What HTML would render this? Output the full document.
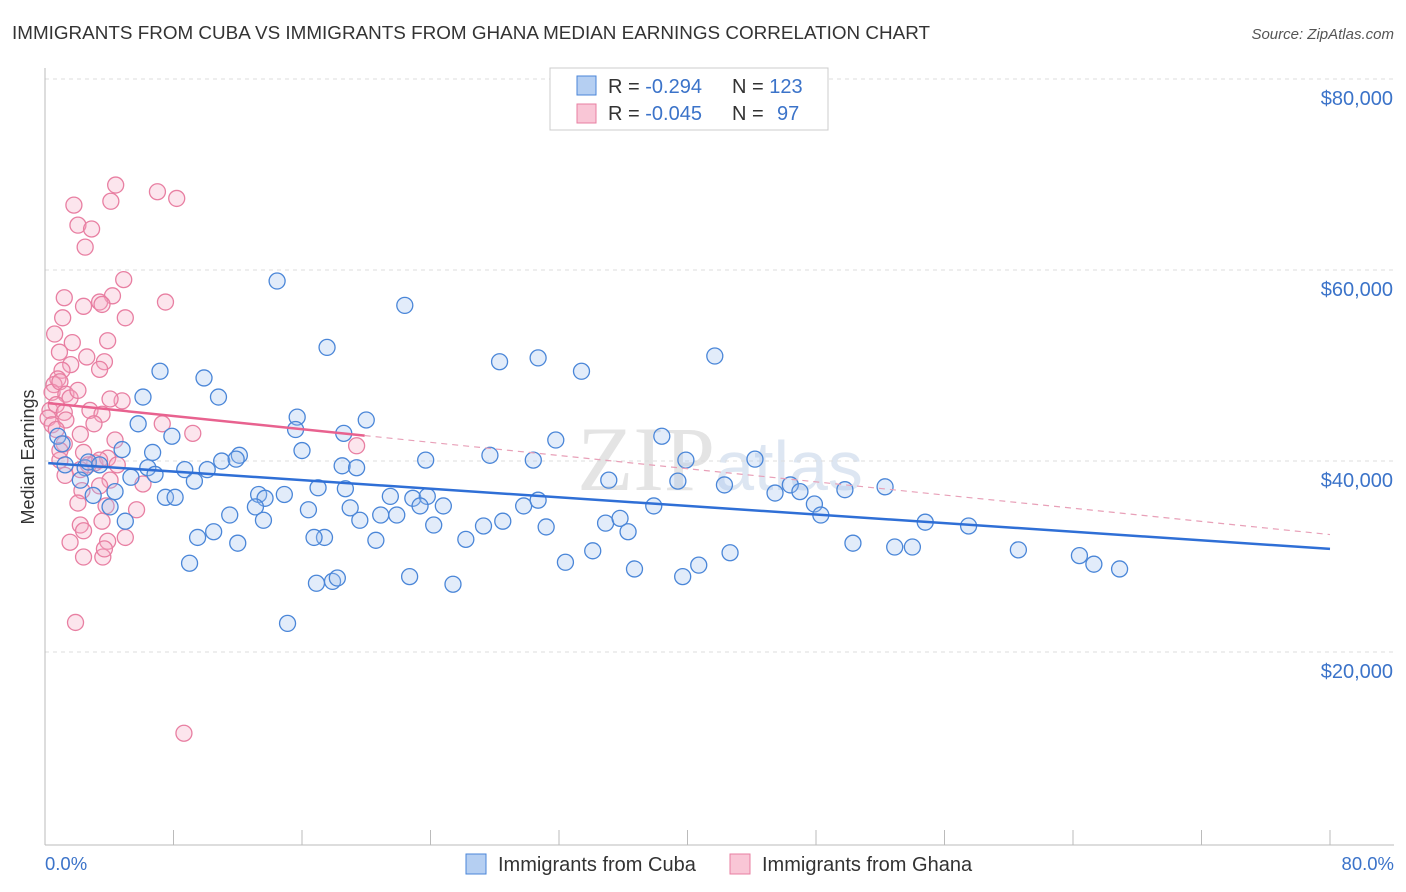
<!DOCTYPE html>
<html><head><meta charset="utf-8">
<style>
body{margin:0;background:#fff;font-family:"Liberation Sans",sans-serif;}
svg{display:block}
</style></head>
<body>
<svg id="chart" width="1406" height="892">
<text x="12" y="39" font-size="18" fill="#333" textLength="918" lengthAdjust="spacingAndGlyphs">IMMIGRANTS FROM CUBA VS IMMIGRANTS FROM GHANA MEDIAN EARNINGS CORRELATION CHART</text>
<text x="1394" y="39" font-size="15" fill="#555" font-style="italic" text-anchor="end">Source: ZipAtlas.com</text>
<text x="720" y="490" font-size="92" fill="#e4e4e4" text-anchor="middle" font-family="Liberation Serif,serif">ZIP<tspan font-family="Liberation Sans,sans-serif" font-size="70" fill="#dde6f2">atlas</tspan></text>
<g id="grid"></g>
<g id="axes"></g>
<g id="marks"></g>
<text transform="translate(34,457) rotate(-90)" font-size="18" fill="#333" text-anchor="middle">Median Earnings</text>
<text x="45" y="870" font-size="18.5" fill="#3b73c9">0.0%</text>
<text x="1394" y="870" font-size="18.5" fill="#3b73c9" text-anchor="end">80.0%</text>
<g>
<rect x="550" y="68" width="278" height="62" fill="#fff" stroke="#ccc"/>
<rect x="577" y="76" width="19" height="19" fill="#b5cff2" stroke="#4a86d8"/>
<rect x="577" y="104" width="19" height="19" fill="#f9c6d6" stroke="#e87fa2"/>
<text x="608" y="93" font-size="20" fill="#333">R = <tspan fill="#3b73c9">-0.294</tspan><tspan x="732">N = </tspan><tspan fill="#3b73c9">123</tspan></text>
<text x="608" y="120" font-size="20" fill="#333">R = <tspan fill="#3b73c9">-0.045</tspan><tspan x="732">N = </tspan><tspan fill="#3b73c9" x="777">97</tspan></text>
</g>
<g>
<rect x="466" y="854" width="20" height="20" fill="#b5cff2" stroke="#4a86d8"/>
<text x="498" y="871" font-size="20" fill="#333">Immigrants from Cuba</text>
<rect x="730" y="854" width="20" height="20" fill="#f9c6d6" stroke="#e87fa2"/>
<text x="762" y="871" font-size="20" fill="#333">Immigrants from Ghana</text>
</g>
</svg>
<script>
const yTicks=[20000,40000,60000,80000];
const yTickLabels=["$20,000","$40,000","$60,000","$80,000"];
const xTicks=[0,8,16,24,32,40,48,56,64,72,80];
const cubaX=[14.45,22.4,17.56,41.7,28.3,30.7,33.4,7.16,9.9,6.1,10.8,15.7,20.0,15.6,7.9,5.8,31.8,38.4,18.6,27.7,30.4,23.7,16.0,12.1,11.0,11.9,44.2,39.9,6.7,4.8,0.8,1.06,1.25,2.5,2.7,2.2,3.4,8.7,10.1,18.5,19.4,6.4,6.85,9.3,5.35,4.36,3.0,4.05,5.0,7.5,8.1,13.3,14.9,13.7,13.1,17.0,18.7,21.5,22.9,23.8,24.8,23.35,19.0,16.4,20.9,21.9,19.6,13.6,11.5,10.5,9.5,12.0,24.2,27.3,28.5,29.8,30.7,31.2,34.9,35.8,36.3,37.9,35.1,39.4,42.3,45.45,46.4,47.0,47.9,48.3,49.8,52.3,54.8,57.5,50.3,52.9,54.0,60.6,64.4,65.3,66.9,42.65,40.7,39.7,36.7,34.1,32.4,26.2,20.6,17.4,16.75,9.0,16.9,17.9,18.2,22.7,25.4,15.1];
const cubaY=[58.95,56.4,52.0,51.1,50.5,50.9,49.5,49.5,48.8,46.8,46.8,44.7,44.4,43.4,42.7,44.0,42.3,42.7,43.0,40.7,40.2,40.2,41.2,40.7,40.1,40.3,40.3,40.2,41.0,41.3,42.7,41.9,39.7,39.4,40.0,38.1,39.7,39.2,39.2,39.6,39.4,39.4,38.7,38.0,38.4,36.9,36.5,35.3,33.8,36.3,36.3,36.6,36.6,36.2,35.3,37.3,37.2,36.4,36.2,36.4,35.4,35.4,35.2,35.0,34.45,34.45,33.9,33.9,34.45,32.7,32.1,31.5,33.4,33.3,33.8,35.4,36.0,33.2,33.6,34.1,32.7,35.4,38.1,38.0,37.6,36.75,37.6,36.9,35.6,34.45,37.1,37.4,33.7,33.3,31.5,31.1,31.1,30.8,30.2,29.3,28.8,30.5,29.2,28.0,28.8,30.7,29.5,31.9,31.8,32.1,32.1,29.4,27.3,27.5,27.85,28.0,27.2,23.1];
const ghanaX=[4.4,7.0,8.2,4.1,1.8,2.05,2.9,2.5,4.9,1.2,4.2,3.4,3.55,7.5,2.4,1.1,5.0,0.6,3.9,1.7,0.9,2.6,3.7,3.4,1.6,1.06,0.8,0.56,0.44,0.93,1.3,1.56,0.31,0.7,0.19,0.44,1.2,2.8,3.55,4.8,4.05,2.05,1.3,3.05,2.2,7.3,9.2,19.4,4.36,1.2,2.4,3.1,3.9,4.5,2.7,3.4,0.93,2.2,4.05,6.1,1.25,2.3,3.4,2.05,3.8,5.7,3.55,2.2,2.4,3.9,5.0,1.56,2.4,3.6,3.7,1.9,8.65,0.93,0.7];
const ghanaY=[69.0,68.3,67.6,67.3,66.9,64.8,64.4,62.5,59.1,57.2,57.4,56.75,56.5,56.75,56.3,55.1,55.1,53.4,52.7,52.5,51.5,51.0,50.5,49.7,50.2,49.6,48.7,48.1,47.3,48.4,47.1,46.7,45.4,46.0,44.6,43.9,45.2,45.4,45.0,46.4,46.6,47.5,44.4,44.0,42.9,44.0,43.0,41.7,42.3,41.9,41.0,39.9,40.4,39.7,39.7,40.2,40.2,39.2,38.1,37.7,38.6,37.0,37.5,35.7,35.4,35.0,33.8,33.4,32.8,31.7,32.1,31.6,30.05,30.05,30.9,23.2,11.6,41.2,43.4];
const cubaTrend=[39.9,-0.1125];
const ghanaTrend=[46.2,-0.1725];
const ghanaSolidEnd=[19.9];

const X=v=>45+v/80*1285;
const Y=v=>844-v/20000*191;
const NS="http://www.w3.org/2000/svg";
function mk(t,a,p){const e=document.createElementNS(NS,t);for(const k in a)e.setAttribute(k,a[k]);p.appendChild(e);return e;}
const grid=document.getElementById('grid'),axes=document.getElementById('axes'),marks=document.getElementById('marks');
yTicks.forEach((t,i)=>{
  const l=mk('line',{x1:45,x2:1394,y1:Y(t)-1,y2:Y(t)-1,stroke:'#ddd','stroke-dasharray':'4,4'},grid);
  
  
  const tx=mk('text',{x:1393,y:Y(t)+25,'font-size':20,fill:'#3b73c9','text-anchor':'end'},grid);
  tx.textContent=yTickLabels[i];
  
  
});
const ax=mk('line',{x1:45,x2:1394,y1:845,y2:845,stroke:'#bbb'},axes);


const ay=mk('line',{x1:45,x2:45,y1:68,y2:845,stroke:'#bbb'},axes);


xTicks.forEach(t=>{
  const l=mk('line',{x1:X(t),x2:X(t),y1:830,y2:845,stroke:'#bbb'},axes);
  
  
});
function pts(xs,ys,stroke,fill,name){
  xs.forEach((x,i)=>{
    const c=mk('circle',{cx:X(x),cy:Y(ys[i]*1000),r:8,fill:fill,'fill-opacity':0.3,stroke:stroke,'stroke-width':1.3},marks);
    
    
  });
}
pts(ghanaX,ghanaY,'#e87fa2','#f4a9c2','point-ghana');
pts(cubaX,cubaY,'#4a86d8','#9fc0ee','point-cuba');
const tb=mk('line',{x1:X(0.2),y1:Y((cubaTrend[0]+cubaTrend[1]*0.2)*1000),x2:X(80),y2:Y((cubaTrend[0]+cubaTrend[1]*80)*1000),stroke:'#2f6fd6','stroke-width':2.5},marks);


const e=ghanaSolidEnd[0];
const tp=mk('line',{x1:X(0.2),y1:Y((ghanaTrend[0]+ghanaTrend[1]*0.2)*1000),x2:X(e),y2:Y((ghanaTrend[0]+ghanaTrend[1]*e)*1000),stroke:'#e8628f','stroke-width':2.5},marks);


const td=mk('line',{x1:X(e),y1:Y((ghanaTrend[0]+ghanaTrend[1]*e)*1000),x2:X(80),y2:Y((ghanaTrend[0]+ghanaTrend[1]*80)*1000),stroke:'#e8a0b8','stroke-width':1.2,'stroke-dasharray':'6,5'},marks);


</script>
</body></html>
